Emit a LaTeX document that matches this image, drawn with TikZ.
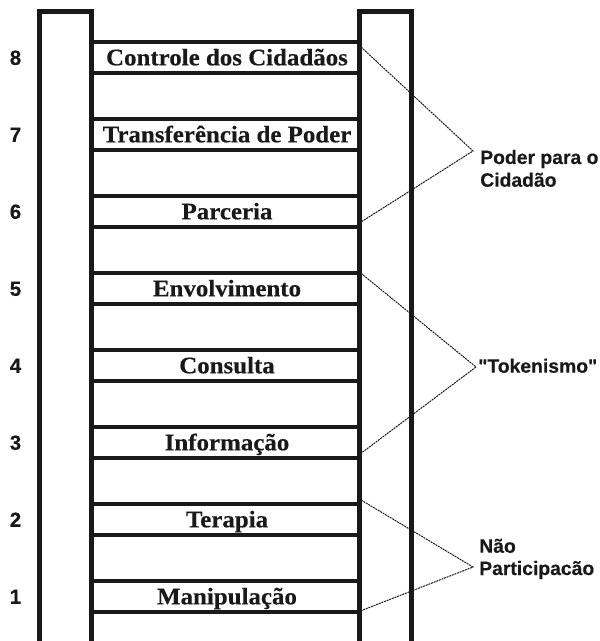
\documentclass[tikz,border=0pt]{standalone}
\usepackage{fontspec}
\newfontfamily\rungfont[FakeStretch=1.05, BoldFeatures={FakeBold=0.3}]{Liberation Serif}
\newfontfamily\sansb[BoldFeatures={FakeBold=0.4}]{Liberation Sans}
\begin{document}
\begin{tikzpicture}[x=0.75pt,y=-0.75pt,
  rail/.style={line width=3.4pt},
  rungline/.style={line width=3.4pt},
  rungtext/.style={font=\rungfont\bfseries\fontsize{17.8}{20}\selectfont, anchor=base, inner sep=0pt, text=black!90},
  num/.style={font=\sansb\bfseries\fontsize{15.4}{17}\selectfont, anchor=base, inner sep=0pt, text=black!90},
  grouptext/.style={font=\sansb\bfseries\fontsize{14.5}{16}\selectfont, anchor=base west, inner sep=0pt, text=black!90},
  conn/.style={line width=0.75pt, dash pattern=on 1.5pt off 0.6pt, black!90}]
\useasboundingbox (0,0) rectangle (599,641);
% rails
\draw[rail, black!90] (39.7,660) -- (39.7,11.7) -- (91.7,11.7) -- (91.7,660);
\draw[rail, black!90] (359.7,660) -- (359.7,11.7) -- (411.7,11.7) -- (411.7,660);
% rungs
\foreach \i/\t in {8/Controle dos Cidadãos, 7/Transferência de Poder, 6/Parceria, 5/Envolvimento, 4/Consulta, 3/Informação, 2/Terapia, 1/Manipulação}{
  \pgfmathsetmacro{\top}{42+(8-\i)*77}
  \draw[rungline, black!90] (91.7,\top) -- (359.7,\top);
  \draw[rungline, black!90] (91.7,\top+31) -- (359.7,\top+31);
  \node[rungtext] (r\i) at (227,\top+23.3) {\t};
  \node[num] (n\i) at (15.5,\top+22.8) {\i};
}
% groups
\coordinate (a8) at (361,47);
\coordinate (a6) at (361,222);
\coordinate (ap) at (473,151);
\node[grouptext] (g1a) at (480,164) {Poder para o};
\node[grouptext] (g1b) at (480,186.7) {Cidadão};
\draw[conn] (a8) -- (ap) -- (a6);

\coordinate (a5) at (361,273.3);
\coordinate (a3) at (361,453.3);
\coordinate (at) at (476,367);
\node[grouptext] (g2) at (478,372.7) {"Tokenismo"};
\draw[conn] (a5) -- (at) -- (a3);

\coordinate (a2) at (361,500);
\coordinate (a1) at (361,610.7);
\coordinate (an) at (473,567);
\node[grouptext] (g3a) at (479,552.7) {Não};
\node[grouptext] (g3b) at (479,575) {Participacão};
\draw[conn] (a2) -- (an) -- (a1);
\end{tikzpicture}
\end{document}
